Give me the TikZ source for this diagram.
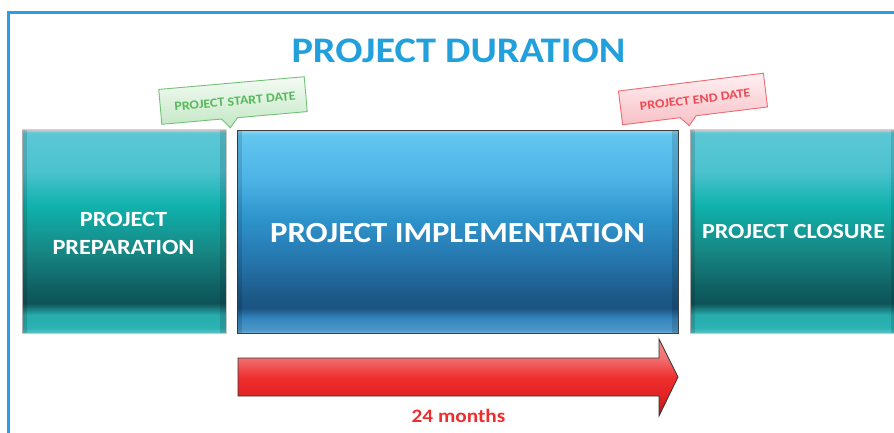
\documentclass[tikz,border=0pt]{standalone}
\usepackage{fontspec}
\setmainfont[FakeStretch=1.12]{Carlito}
\usetikzlibrary{calc}

% palette
\definecolor{framecol}{HTML}{2D9FE0}
\definecolor{titlecol}{HTML}{22A0DC}
\definecolor{monthcol}{HTML}{EE2E2E}
\definecolor{startline}{HTML}{72C275}
\definecolor{starttext}{HTML}{58B85D}
\definecolor{starttop}{HTML}{F4FBF4}
\definecolor{startbot}{HTML}{C3E7C4}
\definecolor{endline}{HTML}{EE6A72}
\definecolor{endtext}{HTML}{EE4A54}
\definecolor{endtop}{HTML}{FFF0F2}
\definecolor{endbot}{HTML}{F7C0C6}

% teal phase box, bottom to top
\definecolor{tA}{HTML}{5CC6C8}
\definecolor{tB}{HTML}{2DB3B3}
\definecolor{tC}{HTML}{27ABAB}
\definecolor{tD}{HTML}{0D5357}
\definecolor{tE}{HTML}{0F5E61}
\definecolor{tF}{HTML}{178885}
\definecolor{tG}{HTML}{10B2AD}
\definecolor{tH}{HTML}{4CC2CF}
\definecolor{tI}{HTML}{5CC7D5}
\definecolor{tJ}{HTML}{9ADCE3}
\pgfdeclareverticalshading{tealbevel}{100bp}{
  color(0bp)=(tA); color(25bp)=(tA); color(26.2bp)=(tB); color(29.5bp)=(tC);
  color(32.3bp)=(tD); color(35.6bp)=(tE); color(45.5bp)=(tF); color(56.5bp)=(tG);
  color(65bp)=(tH); color(74.3bp)=(tI); color(75bp)=(tJ); color(100bp)=(tJ)}

% blue phase box, bottom to top
\definecolor{bA}{HTML}{7FB0D5}
\definecolor{bB}{HTML}{4D97C8}
\definecolor{bC}{HTML}{3486BE}
\definecolor{bD}{HTML}{1A5482}
\definecolor{bE}{HTML}{1D5A88}
\definecolor{bF}{HTML}{2575AD}
\definecolor{bG}{HTML}{2F96CE}
\definecolor{bH}{HTML}{4DB3E6}
\definecolor{bI}{HTML}{62C6EF}
\definecolor{bJ}{HTML}{8BD3F2}
\pgfdeclareverticalshading{bluebevel}{100bp}{
  color(0bp)=(bA); color(25bp)=(bA); color(25.7bp)=(bB); color(28.7bp)=(bC);
  color(31.2bp)=(bD); color(34.4bp)=(bE); color(43bp)=(bF); color(54.2bp)=(bG);
  color(62.9bp)=(bH); color(74bp)=(bI); color(75bp)=(bJ); color(100bp)=(bJ)}

% red duration arrow, bottom to top
\definecolor{rA}{HTML}{B01818}
\definecolor{rB}{HTML}{E32424}
\definecolor{rC}{HTML}{EE2D2D}
\definecolor{rD}{HTML}{F27070}
\definecolor{rE}{HTML}{F58888}
\pgfdeclareverticalshading{redarrow}{100bp}{
  color(0bp)=(rA); color(25bp)=(rA); color(38bp)=(rB); color(49.7bp)=(rC);
  color(62.7bp)=(rD); color(75bp)=(rE); color(100bp)=(rE)}

\tikzset{
  frame/.style={draw=framecol, line width=3pt},
  phasebox/.style={inner sep=0pt, outer sep=0pt, minimum height=203pt},
  tealphase/.style={phasebox, shade, shading=tealbevel, draw=black!22, line width=0.6pt},
  bluephase/.style={phasebox, shade, shading=bluebevel, draw=black!75, line width=1pt},
  bevel/.style={fill=black, fill opacity=0.13},
  phaselabel/.style={text=white, inner sep=0pt, anchor=base},
  durationarrow/.style={shade, shading=redarrow, draw=black!80, line width=0.8pt, line join=miter},
  startbubble/.style={top color=starttop, bottom color=startbot, draw=startline, line width=0.9pt},
  endbubble/.style={top color=endtop, bottom color=endbot, draw=endline, line width=0.9pt},
  bubbletext/.style={font=\fontsize{12.5}{14}\selectfont\bfseries, inner sep=0pt, transform shape},
}

\begin{document}
\begin{tikzpicture}[x=1pt, y=-1pt]
\useasboundingbox (0,0) rectangle (894,433);
\fill[white] (0,0) rectangle (894,433);

% outer frame
\draw[frame] (8,13) rectangle (912,452);

% title
\node[text=titlecol, font=\fontsize{36}{40}\selectfont\bfseries, inner sep=0pt, anchor=base]
  (title) at (458.5,63) {PROJECT DURATION};

% phase boxes
\node[tealphase, minimum width=204pt] (prep) at (124,231.5) {};
\node[bluephase, minimum width=441pt, minimum height=202pt] (impl) at (457.5,232) {};
\node[tealphase, minimum width=207pt] (close) at (793.5,231.5) {};

% side bevels
\foreach \b in {prep,impl,close}{
  \fill[bevel] (\b.north west) rectangle ([xshift=5pt]\b.south west);
  \fill[bevel] ([xshift=-6pt]\b.north east) rectangle (\b.south east);
}

% phase labels
\node[phaselabel, font=\fontsize{21.7}{27}\selectfont\bfseries]
  (preplblA) at (123.5,226) {PROJECT};
\node[phaselabel, font=\fontsize{21.7}{27}\selectfont\bfseries]
  (preplblB) at (123.5,254) {PREPARATION};
\node[phaselabel, font=\fontsize{29.2}{34}\selectfont\bfseries]
  (impllbl) at (457.5,242) {PROJECT IMPLEMENTATION};
\node[phaselabel, font=\fontsize{21.5}{25}\selectfont\bfseries]
  (closelbl) at (793.5,238) {PROJECT CLOSURE};

% duration arrow
\draw[durationarrow] (238,358) -- (659,358) -- (659,339) -- (678,377)
  -- (659,416) -- (659,396) -- (238,396) -- cycle;
\node[text=monthcol, font=\fontsize{19}{22}\selectfont\bfseries, inner sep=0pt, anchor=base]
  (months) at (458.5,422) {24 months};

% start date callout
\begin{scope}[shift={(233,100.5)}, rotate=5]
  \draw[startbubble] (-73,-17.5) -- (73,-17.5) -- (73,17.5) -- (3,17.5)
    -- (-5,27) -- (-13,17.5) -- (-73,17.5) -- cycle;
  \node[bubbletext, text=starttext] (startlbl) at (2,1) {PROJECT START DATE};
\end{scope}

% end date callout
\begin{scope}[shift={(693,99)}, rotate=7]
  \draw[endbubble] (-73,-17) -- (73,-17) -- (73,17) -- (1,17)
    -- (-7,26) -- (-15,17) -- (-73,17) -- cycle;
  \node[bubbletext, text=endtext] (endlbl) at (2,1) {PROJECT END DATE};
\end{scope}
\end{tikzpicture}
\end{document}
